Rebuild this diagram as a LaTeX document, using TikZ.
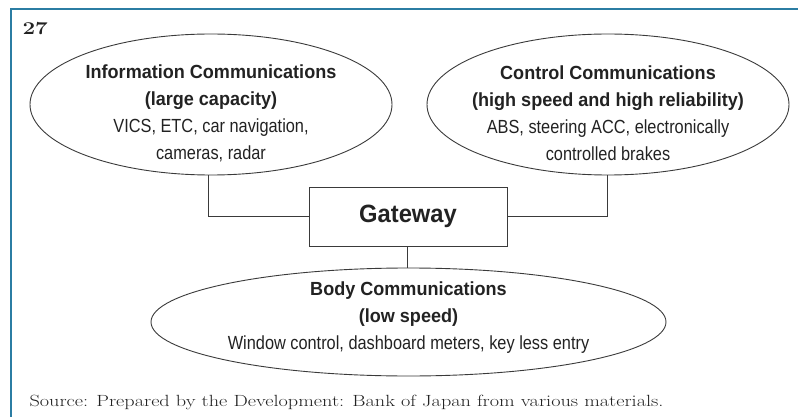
\documentclass[tikz,border=0pt]{standalone}
\usepackage{fontspec}
\newfontfamily\condfont[FakeStretch=0.86, BoldFeatures={FakeStretch=0.95}]{Liberation Sans}
\newfontfamily\srcfont[FakeStretch=1.25]{Latin Modern Roman}
\usetikzlibrary{shapes.geometric}
\definecolor{framecol}{HTML}{2B7DA3}
\definecolor{inkcol}{HTML}{222222}
\definecolor{linecol}{HTML}{3A3A3A}
\tikzset{
  commell/.style={ellipse, draw=linecol, line width=0.9pt, inner sep=0pt},
  commtext/.style={text=inkcol, align=center, font=\condfont\fontsize{19}{27}\selectfont},
  gatebox/.style={rectangle, draw=linecol, line width=1pt, inner sep=0pt,
    text=inkcol, font=\condfont\bfseries\fontsize{25}{30}\selectfont},
  wire/.style={draw=linecol, line width=1pt}
}
\begin{document}
\begin{tikzpicture}[x=1pt, y=-1pt]
\useasboundingbox (0,0) rectangle (798,417);
% outer frame (top and left rules)
\draw[framecol, line width=1.6pt] (11,417) -- (11,9) -- (798,9);
\node[anchor=west, font=\srcfont\bfseries\fontsize{18}{20}\selectfont, text=inkcol] (num) at (19,29) {27};

\node[commell, minimum width=362pt, minimum height=141pt] (info) at (211,104.5) {};
\node[commtext] (infotxt) at (211,113)
  {\textbf{Information Communications}\\\textbf{(large capacity)}\\VICS, ETC, car navigation,\\cameras, radar};

\node[commell, minimum width=362pt, minimum height=141pt] (ctrl) at (608,104.5) {};
\node[commtext] (ctrltxt) at (608,113)
  {\textbf{Control Communications}\\\textbf{(high speed and high reliability)}\\ABS, steering ACC, electronically\\controlled brakes};

\node[gatebox, minimum width=198pt, minimum height=59pt] (gw) at (408,216.5) {Gateway};

\node[commell, minimum width=515pt, minimum height=108pt] (body) at (408.5,322) {};
\node[commtext] (bodytxt) at (408.5,318)
  {\textbf{Body Communications}\\\textbf{(low speed)}\\Window control, dashboard meters, key less entry};

% connectors
\draw[wire] (info.south -| 208,0) |- (gw.west |- 0,216);
\draw[wire] (ctrl.south -| 607,0) |- (gw.east |- 0,216);
\draw[wire] (gw.south -| 407,0) -- (body.north -| 407,0);

\node[anchor=west, text=inkcol, font=\srcfont\fontsize{16.2}{18}\selectfont] (src) at (26,402)
  {Source: Prepared by the Development: Bank of Japan from various materials.};
\end{tikzpicture}
\end{document}
